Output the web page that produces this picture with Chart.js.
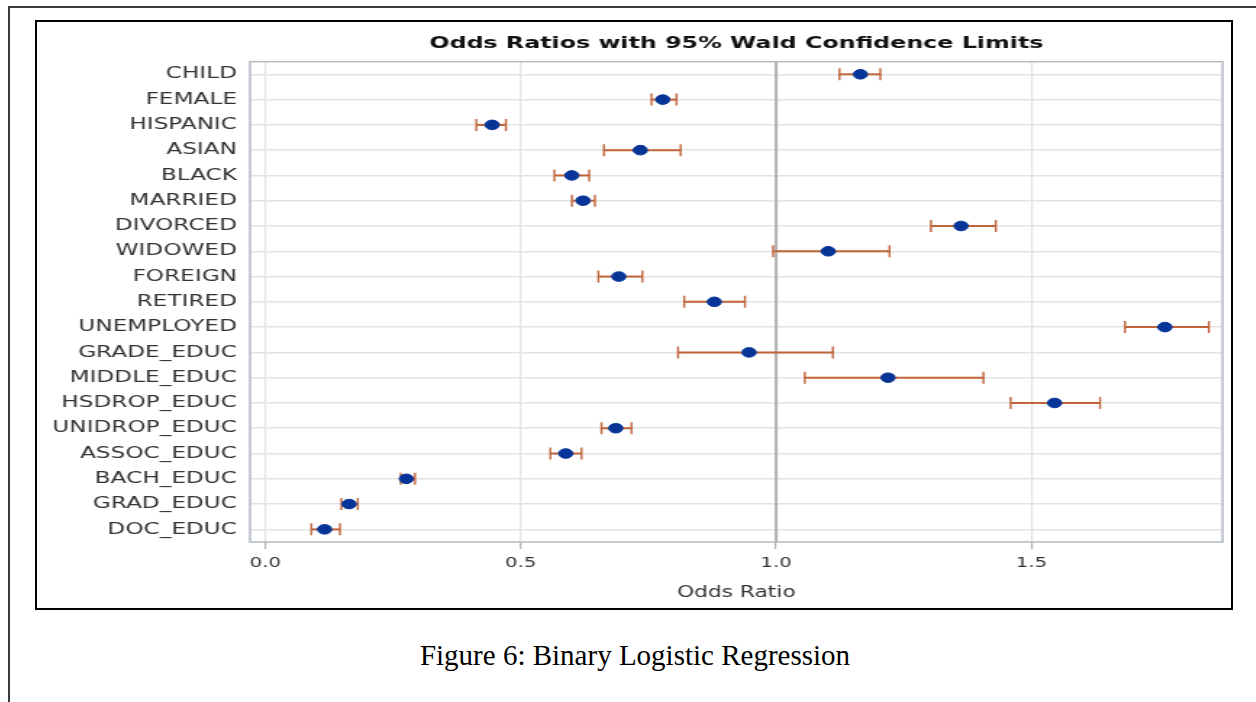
<!DOCTYPE html>
<html>
<head>
<meta charset="utf-8">
<script src="https://cdn.jsdelivr.net/npm/chart.js@4"></script>
<style>
  body { margin: 0; background: #fff; }
  #page { position: relative; width: 1256px; height: 702px; overflow: hidden; }
  .rule { position: absolute; background: #3a3a3a; }
  #box { position: absolute; left: 35px; top: 20px; width: 1198px; height: 590px; box-sizing: border-box; border: 2px solid #000; }
  #stretch { position: absolute; left: 37px; top: 22px; width: 824px; height: 586px; transform: scaleX(1.44903); transform-origin: 0 0; }
  #caption { position: absolute; left: 335px; top: 641px; width: 600px; text-align: center; font-family: 'Liberation Serif', 'Times New Roman', serif; font-size: 29px; line-height: 29px; color: #000; }
</style>
</head>
<body>
<div id="page">
  <div class="rule" style="left:8px;top:6px;width:1248px;height:2px"></div>
  <div class="rule" style="left:8px;top:6px;width:2px;height:696px"></div>
  <div id="box"></div>
  <div id="stretch"><canvas id="myChart" width="824" height="586"></canvas></div>
  <div id="caption">Figure 6: Binary Logistic Regression</div>
</div>
<script>
const labels = [
  'CHILD', 'FEMALE', 'HISPANIC', 'ASIAN', 'BLACK', 'MARRIED', 'DIVORCED',
  'WIDOWED', 'FOREIGN', 'RETIRED', 'UNEMPLOYED', 'GRADE_EDUC', 'MIDDLE_EDUC',
  'HSDROP_EDUC', 'UNIDROP_EDUC', 'ASSOC_EDUC', 'BACH_EDUC', 'GRAD_EDUC', 'DOC_EDUC'
]

const oddsRatio = [1.165, 0.778, 0.444, 0.734, 0.600, 0.622, 1.362, 1.102, 0.692, 0.879,
  1.761, 0.947, 1.219, 1.545, 0.686, 0.588, 0.276, 0.164, 0.116]
const lowerCL = [1.124, 0.756, 0.413, 0.663, 0.566, 0.600, 1.303, 0.994, 0.652, 0.820,
  1.683, 0.808, 1.056, 1.459, 0.658, 0.558, 0.265, 0.149, 0.090]
const upperCL = [1.204, 0.805, 0.471, 0.813, 0.634, 0.645, 1.430, 1.222, 0.738, 0.939,
  1.847, 1.111, 1.406, 1.634, 0.717, 0.619, 0.293, 0.181, 0.146]

const xTicks = [0, 0.5, 1.0, 1.5]
const refValue = 1.0

Chart.defaults.font.family = "'DejaVu Sans', Verdana, sans-serif"

// whiskers, reference line at OR = 1 and the plot frame
const errorBars = {
  id: 'errorBars',
  beforeDatasetsDraw(chart) {
    const { ctx, chartArea, scales: { x, y } } = chart
    ctx.save()
    const rx = x.getPixelForValue(refValue)
    ctx.strokeStyle = '#b2b2b2'
    ctx.lineWidth = 2
    ctx.beginPath()
    ctx.moveTo(rx, chartArea.top)
    ctx.lineTo(rx, chartArea.bottom)
    ctx.stroke()

    ctx.strokeStyle = '#c0643a'
    labels.forEach((lab, i) => {
      const yy = y.getPixelForValue(i)
      const x1 = x.getPixelForValue(lowerCL[i])
      const x2 = x.getPixelForValue(upperCL[i])
      ctx.lineWidth = 2
      ctx.beginPath()
      ctx.moveTo(x1, yy)
      ctx.lineTo(x2, yy)
      ctx.stroke()
      ctx.lineWidth = 1.4
      ctx.beginPath()
      ctx.moveTo(x1, yy - 6)
      ctx.lineTo(x1, yy + 6)
      ctx.moveTo(x2, yy - 6)
      ctx.lineTo(x2, yy + 6)
      ctx.stroke()
    })

    ctx.strokeStyle = '#b3bac2'
    ctx.lineWidth = 1.5
    ctx.strokeRect(chartArea.left, chartArea.top, chartArea.width, chartArea.height)
    ctx.restore()
  }
}

const data = {
  datasets: [{
    label: 'Odds Ratio',
    data: labels.map((lab, i) => ({ x: oddsRatio[i], y: lab })),
    backgroundColor: '#063597',
    borderColor: '#063597',
    pointRadius: 4.8,
    pointHoverRadius: 4.8
  }]
}

const config = {
  type: 'scatter',
  data: data,
  plugins: [errorBars],
  options: {
    responsive: false,
    animation: false,
    devicePixelRatio: 1,
    layout: { padding: { left: 0, right: 5.5, top: 0, bottom: 6 } },
    plugins: {
      legend: { display: false },
      tooltip: { enabled: false },
      title: {
        display: true,
        fullSize: false,
        text: 'Odds Ratios with 95% Wald Confidence Limits',
        color: '#111',
        font: { size: 16.4, weight: 'bold' },
        padding: { top: 12, bottom: 8 }
      }
    },
    scales: {
      x: {
        type: 'linear',
        min: -0.03,
        max: 1.874,
        afterBuildTicks: s => { s.ticks = xTicks.map(v => ({ value: v })) },
        afterFit: s => { s.height = 60 },
        ticks: {
          callback: v => Number(v).toFixed(1),
          color: '#333',
          font: { size: 13.5 },
          padding: 6,
          maxRotation: 0
        },
        grid: {
          color: '#e2e2e2',
          lineWidth: 1.2,
          tickLength: 7,
          tickColor: '#aab0b8',
          tickWidth: 1.2
        },
        border: { display: false },
        title: {
          display: true,
          text: 'Odds Ratio',
          color: '#333',
          font: { size: 15 },
          padding: { top: 10, bottom: 0 }
        }
      },
      y: {
        type: 'category',
        labels: labels,
        offset: true,
        afterFit: s => { s.width = 147 },
        grid: { offset: false, color: '#e4e4e4', lineWidth: 1.5, drawTicks: false },
        border: { display: false },
        ticks: { color: '#333', font: { size: 16 }, padding: 9, autoSkip: false }
      }
    }
  }
}

const ctx = document.getElementById('myChart').getContext('2d')
const myChart = new Chart(ctx, config)
</script>
</body>
</html>
